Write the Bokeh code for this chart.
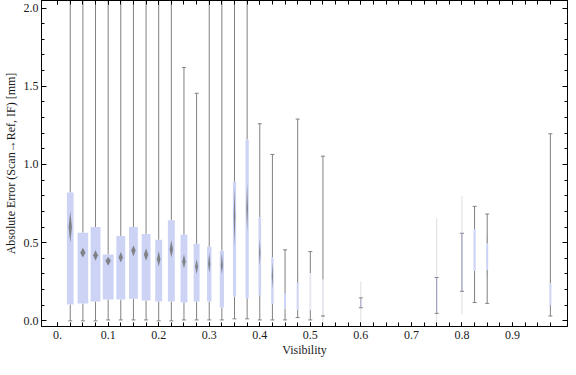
from bokeh.plotting import figure
from bokeh.models import (Range1d, FixedTicker, LinearAxis, ColumnDataSource,
                          CustomJSTickFormatter)
from bokeh.embed import file_html
from bokeh.resources import INLINE

# ---------------- data ----------------
visibility = [0.025, 0.05, 0.075, 0.1, 0.125, 0.15, 0.175, 0.2, 0.225, 0.25,
              0.275, 0.3, 0.325, 0.35, 0.375, 0.4, 0.425, 0.45, 0.475, 0.5,
              0.525, 0.6, 0.75, 0.8, 0.825, 0.85, 0.975]
whisker_lo = [0.0, 0.0, 0.0, 0.006, 0.006, 0.006, 0.006, 0.0, 0.0, 0.006,
              0.006, 0.006, 0.006, 0.013, 0.013, 0.006, 0.006, 0.006, 0.021, 0.006,
              0.031, 0.084, 0.048, 0.189, 0.117, 0.112, 0.031]
q1 = [0.105, 0.111, 0.124, 0.136, 0.136, 0.142, 0.130, 0.124, 0.124, 0.117,
      0.124, 0.124, 0.086, 0.155, 0.145, 0.164, 0.111, 0.079, 0.073, 0.069,
      0.038, 0.084, 0.048, 0.189, 0.320, 0.325, 0.101]
median = [0.600, 0.436, 0.420, 0.384, 0.405, 0.451, 0.422, 0.394, 0.457, 0.378,
          0.348, 0.363, 0.353, 0.667, 0.720, 0.436, 0.290, 0.130, 0.160, 0.190,
          0.150, 0.115, 0.160, 0.370, 0.450, 0.410, 0.170]
q3 = [0.820, 0.564, 0.600, 0.424, 0.543, 0.600, 0.556, 0.518, 0.644, 0.550,
      0.493, 0.474, 0.449, 0.889, 1.160, 0.661, 0.405, 0.178, 0.243, 0.304,
      0.263, 0.147, 0.277, 0.560, 0.587, 0.494, 0.239]
whisker_hi = [2.5, 2.5, 2.5, 2.5, 2.5, 2.5, 2.5, 2.5, 2.5, 1.620,
              1.455, 2.5, 2.5, 2.5, 2.5, 1.260, 1.064, 0.454, 1.290, 0.443,
              1.053, 0.147, 0.277, 0.560, 0.732, 0.683, 1.196]
# relative sample size -> box width as a fraction of the bin spacing
rel_width = [0.53, 0.84, 0.78, 0.86, 0.70, 0.70, 0.70, 0.545, 0.545, 0.545,
             0.47, 0.35, 0.33, 0.25, 0.25, 0.21, 0.195, 0.155, 0.155, 0.155,
             0.155, 0.08, 0.09, 0.09, 0.17, 0.155, 0.155]
# median confidence interval (notch) for the boxes where it is visible
notch_lo = [0.499, 0.405, 0.384, 0.353, 0.373, 0.411, 0.384, 0.348, 0.405, 0.336,
            0.300, 0.310, 0.300, 0.479, 0.573, 0.353, 0.205]
notch_hi = [0.699, 0.468, 0.451, 0.409, 0.441, 0.482, 0.462, 0.447, 0.516, 0.426,
            0.394, 0.436, 0.436, 0.856, 0.877, 0.520, 0.373]

# faint overlaid ranges
faint_x = [0.475, 0.525, 0.6, 0.75, 0.8, 0.85, 0.975]
faint_lo = [0.243, -0.10, -0.004, -0.10, 0.042, 0.280, 0.239]
faint_hi = [0.270, 0.050, 0.252, 0.657, 0.797, 0.550, 0.275]

faint_boxes = [0.5, 0.525]
thin_boxes = [0.6, 0.75, 0.8]

x_ticks = [0.0, 0.1, 0.2, 0.3, 0.4, 0.5, 0.6, 0.7, 0.8, 0.9]
y_ticks = [0.0, 0.5, 1.0, 1.5, 2.0]
x_title = "Visibility"
y_title = "Absolute Error (Scan\u2192Ref, IF) [mm]"

BIN = 0.025
BOX_COLOR = "#ccd3f5"
WHISK_COLOR = "#808080"
FONT = "Liberation Serif, Times New Roman, serif"
TEXT_COLOR = "#1a1a1a"

# ---------------- figure ----------------
p = figure(width=568, height=359, output_backend="svg", toolbar_location=None,
           x_range=Range1d(-0.0319, 1.0089), y_range=Range1d(-0.036, 2.048),
           min_border_left=0, min_border_right=1, min_border_top=0,
           min_border_bottom=0, x_axis_location=None, y_axis_location=None)
p.grid.visible = False
p.outline_line_color = "black"
p.outline_line_width = 1
p.background_fill_color = "white"
p.border_fill_color = "white"

x_minor = [round(k * BIN, 3) for k in range(0, 40)]
y_minor = [round(k * 0.1, 1) for k in range(0, 21)]

xfmt = CustomJSTickFormatter(code="return tick == 0 ? '0.' : tick.toFixed(1);")
yfmt = CustomJSTickFormatter(code="return tick.toFixed(1);")
blank = CustomJSTickFormatter(code="return '';")


def style_axis(ax, labels, is_x):
    ax.axis_line_color = "black"
    ax.major_tick_line_color = "black"
    ax.minor_tick_line_color = "black"
    ax.major_tick_out = 0
    ax.minor_tick_out = 0
    if is_x:
        ax.major_tick_in = 4
        ax.minor_tick_in = 4
    else:
        ax.major_tick_in = 5
        ax.minor_tick_in = 3
    if labels:
        ax.major_label_text_font = FONT
        ax.major_label_text_font_size = "12px"
        ax.major_label_text_color = TEXT_COLOR
        ax.axis_label_text_font = FONT
        ax.axis_label_text_font_size = "12px"
        ax.axis_label_text_font_style = "normal"
        ax.axis_label_text_color = TEXT_COLOR
    else:
        ax.major_label_standoff = 0
        ax.axis_label = None


xb = LinearAxis(ticker=FixedTicker(ticks=x_ticks, minor_ticks=x_minor),
                formatter=xfmt, axis_label=x_title)
style_axis(xb, True, True)
xb.major_label_standoff = 4
xb.axis_label_standoff = 1
p.add_layout(xb, "below")

xt = LinearAxis(ticker=FixedTicker(ticks=x_ticks, minor_ticks=x_minor), formatter=blank)
style_axis(xt, False, True)
p.add_layout(xt, "above")

yl = LinearAxis(ticker=FixedTicker(ticks=y_ticks, minor_ticks=y_minor),
                formatter=yfmt, axis_label=y_title)
style_axis(yl, True, False)
yl.major_label_standoff = 3
yl.axis_label_standoff = 3
p.add_layout(yl, "left")

yr = LinearAxis(ticker=FixedTicker(ticks=y_ticks, minor_ticks=y_minor), formatter=blank)
style_axis(yr, False, False)
p.add_layout(yr, "right")

# ---------------- glyphs ----------------
# faint background ranges
p.segment(x0=faint_x, y0=faint_lo, x1=faint_x, y1=faint_hi,
          line_color="#d6d6d6", line_width=1, line_alpha=0.8)

box_w = [r * BIN for r in rel_width]
colors = []
for v in visibility:
    if v in faint_boxes:
        colors.append("#e7e8f1")
    elif v in thin_boxes:
        colors.append("#9a9dbf")
    else:
        colors.append(BOX_COLOR)

src = ColumnDataSource(dict(x=visibility, wlo=whisker_lo, q1=q1, med=median,
                            q3=q3, whi=whisker_hi, w=box_w, color=colors))

# whiskers (outside the box)
p.segment(x0="x", y0="wlo", x1="x", y1="q1", source=src,
          line_color=WHISK_COLOR, line_width=1)
p.segment(x0="x", y0="q3", x1="x", y1="whi", source=src,
          line_color=WHISK_COLOR, line_width=1)
# caps
p.scatter(x="x", y="wlo", source=src, marker="dash", size=4,
          line_color=WHISK_COLOR, line_width=1)
p.scatter(x="x", y="whi", source=src, marker="dash", size=4,
          line_color=WHISK_COLOR, line_width=1)

# boxes
p.vbar(x="x", width="w", bottom="q1", top="q3", source=src,
       fill_color="color", line_color=None)

# median notch diamonds
dxs, dys = [], []
for i in range(len(notch_lo)):
    x = visibility[i]
    hw = box_w[i] / 4.0
    dxs.append([x - hw, x, x + hw, x])
    dys.append([median[i], notch_hi[i], median[i], notch_lo[i]])
p.patches(xs=dxs, ys=dys, fill_color="#737373", fill_alpha=0.85, line_color=None)

open("out.html", "w").write(file_html(p, INLINE))
